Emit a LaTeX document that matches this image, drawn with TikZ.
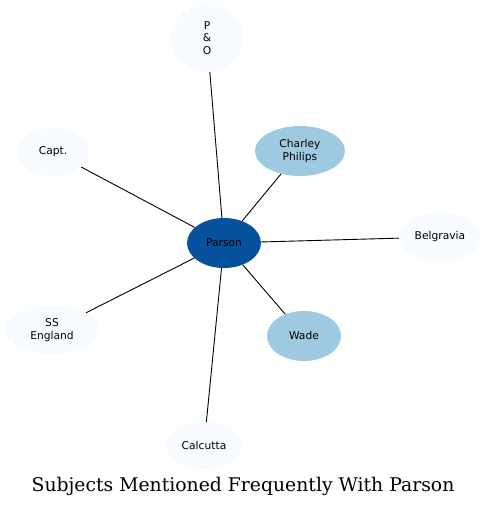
\documentclass[tikz,border=0pt]{standalone}
\usepackage{fontspec}
\newfontfamily\nodefont{DejaVu Sans}
\newfontfamily\titlefont{DejaVu Serif}
\usetikzlibrary{
	shapes.geometric,
	positioning
}
\definecolor{palest}{HTML}{F7FBFF}
\definecolor{midblue}{HTML}{9ECAE1}
\definecolor{deepblue}{HTML}{08519C}

\begin{document}
\begin{tikzpicture}[
		x=1pt, y=-1pt,
		subj/.style={ellipse, fill=palest, draw=none, inner sep=0pt, align=center, font=\nodefont\fontsize{10.7}{12.5}\selectfont, minimum width=74pt, minimum height=48pt},
		near/.style={subj, fill=midblue},
		hub/.style={subj, fill=deepblue},
		link/.style={black, line width=0.9pt}
		]
		\useasboundingbox (0,0) rectangle (487,507);
		
		% =========================
		% Centre subject
		% =========================
		\node[hub, minimum width=74pt, minimum height=50pt] (parson) at (224,243) {Parson};
		
		% =========================
		% Related subjects
		% =========================
		\node[subj, minimum width=72pt, minimum height=68pt] (po) at (207,38) {P\\\&\\O};
		\node[subj, minimum width=72pt] (capt) at (53,152) {Capt.};
		\node[near, minimum width=90pt, minimum height=50pt] (charley) at (300,151) {Charley\\Philips};
		\node[subj, minimum width=82pt] (belgravia) at (440,237) {Belgravia};
		\node[subj, minimum width=96pt] (ssengland) at (52,330) {SS\\England};
		\node[near, minimum width=74pt, minimum height=50pt] (wade) at (304,336) {Wade};
		\node[subj, minimum width=76pt] (calcutta) at (204,446) {Calcutta};
		
		% =========================
		% Links: Parson -> each subject
		% =========================
		\foreach \other in {po, capt, charley, belgravia, ssengland, wade, calcutta}
		\draw[link] (parson) -- (\other);
		
		% Title
		\node[font=\titlefont\fontsize{18.8}{22}\selectfont] (title) at (243,486) {Subjects Mentioned Frequently With Parson};
		
	\end{tikzpicture}
\end{document}
